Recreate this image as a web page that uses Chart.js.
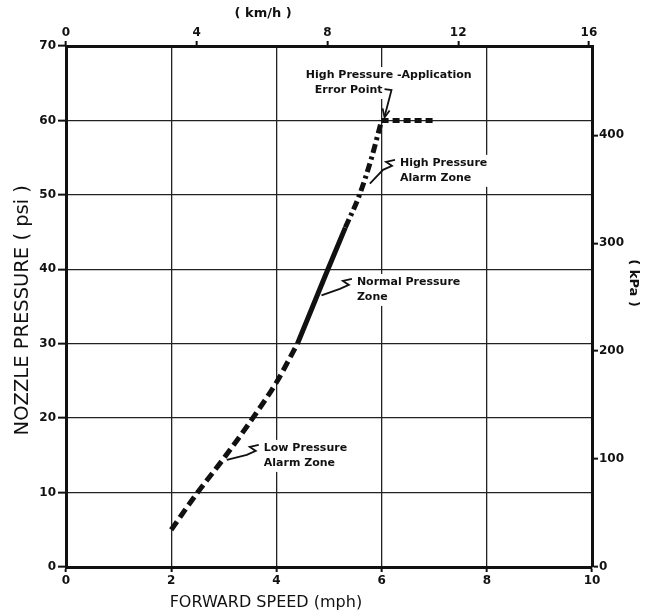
<!DOCTYPE html>
<html>
<head>
<meta charset="utf-8">
<script src="https://cdn.jsdelivr.net/npm/chart.js@4.4.0/dist/chart.umd.min.js"></script>
<style>
  html, body { margin: 0; padding: 0; background: #fff; }
  #wrap { width: 655px; height: 614px; position: relative; }
</style>
</head>
<body>
<div id="wrap"><canvas id="pressureChart"></canvas></div>
<script>
// curve, split into its zones (mph -> psi)
const lowMph = [2.0, 2.5, 3.0, 3.55, 4.0, 4.4];
const lowPsi = [5, 10, 14.6, 20, 24.8, 30];
const normalMph = [4.4, 4.69, 4.98, 5.31];
const normalPsi = [30, 35, 40, 45.6];
const highMph = [5.31, 5.58, 5.81, 6.0];
const highPsi = [45.6, 50, 55, 60];
const errorMph = [6.0, 7.0];
const errorPsi = [60, 60];

// axis ranges / ticks
const mphMax = 10;
const mphStep = 2;
const psiMax = 70;
const psiStep = 10;
const kmhStep = 4;
const kpaStep = 100;
const KMH_PER_MPH = 1.609344;
const KPA_PER_PSI = 6.894757;

// callouts: text lines, text anchor (mph, psi) and the curve point the leader goes to
const notes = [
  { lines: ["High Pressure -Application", "Error Point"], mph: 4.56, psi: 66.1, to: [6.0, 60], kind: "hook" },
  { lines: ["High Pressure", "Alarm Zone"], mph: 6.35, psi: 54.3, to: [5.72, 51.5], kind: "squiggle" },
  { lines: ["Normal Pressure", "Zone"], mph: 5.53, psi: 38.3, to: [4.8, 36.5], kind: "squiggle" },
  { lines: ["Low Pressure", "Alarm Zone"], mph: 3.76, psi: 16.0, to: [3.0, 14.4], kind: "squiggle" }
];

const pts = (xs, ys) => xs.map((x, i) => ({ x: x, y: ys[i] }));

const tickFont = { family: "DejaVu Sans", size: 12, weight: "bold" };
const INK = "#111";

const labelsPlugin = {
  id: "labels",
  afterDatasetsDraw(chart) {
    const ctx = chart.ctx;
    const x = chart.scales.x, y = chart.scales.y, x2 = chart.scales.x2, y2 = chart.scales.y2;
    ctx.save();
    ctx.fillStyle = INK;
    ctx.strokeStyle = INK;

    // callouts
    ctx.font = "bold 11px 'DejaVu Sans'";
    ctx.textBaseline = "middle";
    ctx.textAlign = "left";
    notes.forEach(n => {
      const tx = x.getPixelForValue(n.mph);
      const ty = y.getPixelForValue(n.psi);
      const lh = 15;
      let w = 0;
      n.lines.forEach(l => { w = Math.max(w, ctx.measureText(l).width); });
      ctx.fillStyle = "#fff";
      ctx.fillRect(tx - 3, ty - 8, w + 6, lh * n.lines.length + 2);
      ctx.fillStyle = INK;
      n.lines.forEach((l, i) => {
        ctx.fillText(l, tx + (n.kind === "hook" && i === 1 ? 9 : 0), ty + i * lh);
      });
      const ex = x.getPixelForValue(n.to[0]);
      const ey = y.getPixelForValue(n.to[1]);
      ctx.lineWidth = 1.8;
      ctx.beginPath();
      if (n.kind === "hook") {
        const lx = tx + 9 + ctx.measureText(n.lines[1]).width + 2;
        const ly = ty + lh;
        ctx.moveTo(lx, ly - 1);
        ctx.lineTo(lx + 7, ly);
        ctx.lineTo(ex + 3, ey - 4);
        ctx.stroke();
        ctx.beginPath();
        ctx.moveTo(ex + 1, ey - 12);
        ctx.lineTo(ex + 3, ey - 3);
        ctx.lineTo(ex + 8, ey - 10);
        ctx.stroke();
      } else {
        const sx = tx - 5, sy = ty - 3;
        ctx.moveTo(sx, sy);
        ctx.lineTo(sx - 9, sy + 2);
        ctx.lineTo(sx - 3, sy + 6);
        ctx.lineTo(sx - 12, sy + 10);
        ctx.lineTo(ex + 3, ey);
        ctx.stroke();
      }
    });

    // axis titles
    ctx.font = "16px 'DejaVu Sans'";
    ctx.textAlign = "center";
    ctx.textBaseline = "middle";
    ctx.fillText("FORWARD SPEED (mph)", x.getPixelForValue(3.8), 603);
    ctx.font = "bold 13px 'DejaVu Sans'";
    ctx.fillText("( km/h )", x2.getPixelForValue(6.03), 14);

    ctx.save();
    ctx.translate(23, y.getPixelForValue(34.5));
    ctx.rotate(-Math.PI / 2);
    ctx.font = "19.5px 'DejaVu Sans'";
    ctx.fillText("NOZZLE PRESSURE ( psi )", 0, 0);
    ctx.restore();

    ctx.save();
    ctx.translate(633, y2.getPixelForValue(263));
    ctx.rotate(Math.PI / 2);
    ctx.font = "bold 13px 'DejaVu Sans'";
    ctx.fillText("( kPa )", 0, 0);
    ctx.restore();

    ctx.restore();
  }
};

const gridBase = { color: "#222", lineWidth: 1.3, tickColor: INK, tickWidth: 2 };
const borderBase = { display: true, color: INK, width: 3 };

new Chart(document.getElementById("pressureChart").getContext("2d"), {
  type: "line",
  data: {
    datasets: [
      { label: "Low Pressure Alarm Zone", data: pts(lowMph, lowPsi), borderDash: [10, 5] },
      { label: "Normal Pressure Zone", data: pts(normalMph, normalPsi) },
      { label: "High Pressure Alarm Zone", data: pts(highMph, highPsi), borderDash: [9, 4, 3, 4] },
      { label: "Application Error Point", data: pts(errorMph, errorPsi), borderDash: [7, 4] }
    ].map(d => Object.assign({
      borderColor: INK,
      borderWidth: 5,
      pointRadius: 0,
      fill: false,
      cubicInterpolationMode: "monotone"
    }, d))
  },
  options: {
    responsive: true,
    maintainAspectRatio: false,
    animation: false,
    layout: { padding: 0 },
    plugins: { legend: { display: false }, tooltip: { enabled: false } },
    scales: {
      x: {
        type: "linear", position: "bottom", min: 0, max: mphMax,
        ticks: { stepSize: mphStep, font: tickFont, color: INK, padding: 2 },
        grid: Object.assign({ tickLength: 5 }, gridBase),
        border: borderBase,
        afterFit: s => { s.height = 47; }
      },
      x2: {
        type: "linear", position: "top", min: 0, max: mphMax * KMH_PER_MPH,
        ticks: { stepSize: kmhStep, includeBounds: false, font: tickFont, color: INK, padding: 1 },
        grid: Object.assign({ tickLength: 5, drawOnChartArea: false }, gridBase),
        border: borderBase,
        afterFit: s => { s.height = 46; }
      },
      y: {
        type: "linear", position: "left", min: 0, max: psiMax,
        ticks: { stepSize: psiStep, font: tickFont, color: INK, padding: 2 },
        grid: Object.assign({ tickLength: 8 }, gridBase),
        border: borderBase,
        afterFit: s => { s.width = 66; }
      },
      y2: {
        type: "linear", position: "right", min: 0, max: psiMax * KPA_PER_PSI,
        ticks: { stepSize: kpaStep, includeBounds: false, font: tickFont, color: INK, padding: 1 },
        grid: Object.assign({ tickLength: 6, drawOnChartArea: false }, gridBase),
        border: borderBase,
        afterFit: s => { s.width = 63; }
      }
    }
  },
  plugins: [labelsPlugin]
});
</script>
</body>
</html>
